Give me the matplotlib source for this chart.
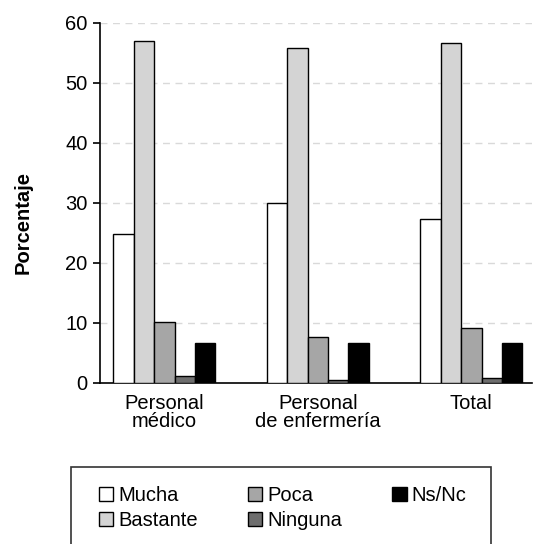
import numpy as np
import matplotlib.pyplot as plt
import matplotlib.transforms as mtransforms
from matplotlib.patches import Rectangle

plt.rcParams['font.family'] = ['Liberation Sans', 'DejaVu Sans']

# datos
grupos = ['Personal\nmédico', 'Personal\nde enfermería', 'Total']
categorias = ['Mucha', 'Bastante', 'Poca', 'Ninguna', 'Ns/Nc']
mucha = [24.8, 30.0, 27.4]
bastante = [57.0, 55.8, 56.6]
poca = [10.2, 7.6, 9.1]
ninguna = [1.2, 0.5, 0.8]
nsnc = [6.7, 6.7, 6.7]
series = [mucha, bastante, poca, ninguna, nsnc]
colores = ['white', '#d4d4d4', '#a6a6a6', '#6e6e6e', 'black']

fig = plt.figure(figsize=(5.35, 5.44), dpi=100)
ax = fig.add_axes([100 / 535, 1 - 383 / 544, 432 / 535, 360 / 544])

x = np.arange(len(grupos))
w = 0.133
for i, (vals, col, lab) in enumerate(zip(series, colores, categorias)):
    ax.bar(x + (i - 2) * w, vals, w, color=col, edgecolor='black',
           linewidth=1.0, label=lab, zorder=3)

ax.set_xlim(-0.419, 2.395)
ax.set_ylim(0, 60)
ax.set_yticks(range(0, 61, 10))
ax.set_xticks(x)
ax.set_xticklabels(grupos, fontsize=14.5, linespacing=0.95)
offset = mtransforms.ScaledTranslation(-4 / 100, 0, fig.dpi_scale_trans)
for t in ax.get_xticklabels():
    t.set_transform(t.get_transform() + offset)
ax.tick_params(axis='x', length=0, pad=8)
ax.tick_params(axis='y', labelsize=14.5, length=5, width=1.2, pad=4)

# rasterlijnen
for yv in range(10, 61, 10):
    ax.axhline(yv, color='#d9d9d9', linestyle=(0, (5, 4)), linewidth=1, zorder=1)

ax.spines['top'].set_visible(False)
ax.spines['right'].set_visible(False)
ax.spines['left'].set_linewidth(1.2)
ax.spines['bottom'].set_linewidth(1.2)

ax.set_ylabel('Porcentaje', fontsize=14.5, fontweight='bold')
ax.yaxis.set_label_coords(-(100 - 33) / 432, (383 - 222) / 360)

# leyenda
fig.patches.append(Rectangle((70.7 / 535, -0.05), 420 / 535, 0.05 + 1 - 466.7 / 544,
                             transform=fig.transFigure, fill=False,
                             edgecolor='#333333', linewidth=1.2))
fig.legend(loc='upper left', bbox_to_anchor=(99 / 535, 1 - 486 / 544), ncol=3,
           frameon=False, fontsize=14.5, handlelength=0.7, handleheight=0.7,
           handletextpad=0.25, labelspacing=0.3, columnspacing=2.5,
           borderpad=0, borderaxespad=0)

fig.savefig('out.png', dpi=100)
